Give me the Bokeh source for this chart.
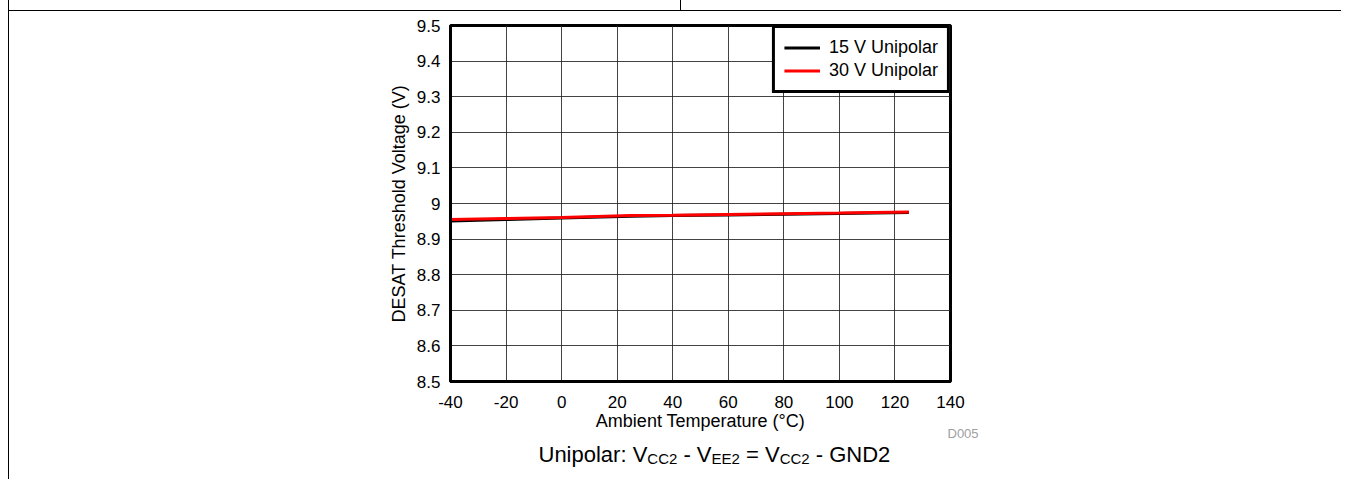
from bokeh.plotting import figure
from bokeh.models import Range1d, FixedTicker, Legend, LegendItem, Label
from bokeh.embed import file_html
from bokeh.resources import INLINE

# ---------------- data ----------------
temps = [-40, -20, 0, 25, 40, 60, 80, 100, 125]
v15_unipolar = [8.951, 8.955, 8.959, 8.964, 8.966, 8.968, 8.970, 8.972, 8.975]
v30_unipolar = [8.955, 8.958, 8.961, 8.966, 8.967, 8.969, 8.971, 8.973, 8.976]
series_names = ["15 V Unipolar", "30 V Unipolar"]

x_ticks = [-40, -20, 0, 20, 40, 60, 80, 100, 120, 140]
x_tick_labels = ["-40", "-20", "0", "20", "40", "60", "80", "100", "120", "140"]
y_ticks = [8.5, 8.6, 8.7, 8.8, 8.9, 9.0, 9.1, 9.2, 9.3, 9.4, 9.5]
y_tick_labels = ["8.5", "8.6", "8.7", "8.8", "8.9", "9", "9.1", "9.2", "9.3", "9.4", "9.5"]

x_title = "Ambient Temperature (\u00b0C)"
y_title = "DESAT Threshold Voltage (V)"
caption = [("Unipolar: V", False), ("CC2", True), (" - V", False), ("EE2", True),
           (" = V", False), ("CC2", True), (" - GND2", False)]
code_label = "D005"

# ---------------- layout ----------------
X0, X1 = -40, 140
Y0, Y1 = 8.5, 9.5
CW, CH = 1341, 479
FL, FT, FW, FH = 450, 25, 500, 356  # frame in canvas px
FONT = "Liberation Sans"


def dx(px):
    return X0 + (px - FL) * (X1 - X0) / FW


def dy(py):
    return Y1 - (py - FT) * (Y1 - Y0) / FH


p = figure(frame_width=FW, frame_height=FH,
           min_border_left=FL, min_border_right=CW - FL - FW,
           min_border_top=FT, min_border_bottom=CH - FT - FH,
           x_range=Range1d(X0, X1), y_range=Range1d(Y0, Y1),
           output_backend="svg", toolbar_location=None)
p.background_fill_color = "white"
p.border_fill_color = None
p.outline_line_color = "black"
p.outline_line_width = 3
# thin page rules of the datasheet cell (drawn behind the transparent border area)
p.styles = {
    "background": "linear-gradient(#000,#000) 8px 0px / 1.3px 100% no-repeat, "
                  "linear-gradient(#000,#000) 8px 9.6px / 100% 1.4px no-repeat, "
                  "linear-gradient(#000,#000) 679.5px 0px / 1.3px 10px no-repeat, #ffffff"
}

for ax in (p.xaxis[0], p.yaxis[0]):
    ax.axis_line_width = 3
    ax.axis_line_color = "black"
    ax.major_tick_line_color = None
    ax.minor_tick_line_color = None
    ax.major_label_text_font = FONT
    ax.major_label_text_font_size = "17px"
    ax.major_label_text_color = "black"
    ax.axis_label_text_font = FONT
    ax.axis_label_text_font_size = "18px"
    ax.axis_label_text_font_style = "normal"
    ax.axis_label_text_color = "black"

p.xaxis.ticker = FixedTicker(ticks=x_ticks)
p.xaxis.major_label_overrides = dict(zip(x_ticks, x_tick_labels))
p.yaxis.ticker = FixedTicker(ticks=y_ticks)
p.yaxis.major_label_overrides = dict(zip(y_ticks, y_tick_labels))
p.xaxis.major_label_standoff = 8
p.yaxis.major_label_standoff = 4
p.xaxis.axis_label = x_title
p.yaxis.axis_label = y_title
p.xaxis.axis_label_standoff = 0
p.yaxis.axis_label_standoff = 5

p.xgrid.ticker = FixedTicker(ticks=x_ticks)
p.ygrid.ticker = FixedTicker(ticks=y_ticks)
for g in (p.xgrid[0], p.ygrid[0]):
    g.grid_line_color = "#222222"
    g.grid_line_width = 1
    g.grid_line_alpha = 0.85

r15 = p.line(temps, v15_unipolar, line_color="black", line_width=3)
r30 = p.line(temps, v30_unipolar, line_color="#ff0000", line_width=3)

legend = Legend(items=[LegendItem(label=series_names[0], renderers=[r15]),
                       LegendItem(label=series_names[1], renderers=[r30])],
                location="top_right", orientation="vertical")
legend.margin = 0
legend.padding = 9
legend.spacing = 2
legend.glyph_width = 36
legend.glyph_height = 21
legend.label_height = 21
legend.label_standoff = 9
legend.label_text_font = FONT
legend.label_text_font_size = "18px"
legend.label_text_color = "black"
legend.border_line_color = "black"
legend.border_line_alpha = 1.0
legend.border_line_width = 3
legend.background_fill_color = "white"
legend.background_fill_alpha = 1.0
p.add_layout(legend, "center")

# caption with subscripts (placed in side panels so that they are not clipped)
W = {"U": 722, "n": 556, "i": 222, "p": 556, "o": 556, "l": 222, "a": 556, "r": 333,
     ":": 278, " ": 278, "V": 667, "C": 722, "2": 556, "-": 333, "E": 667, "=": 584,
     "G": 778, "N": 722, "D": 722}


def tw(s, size):
    return sum(W.get(c, 556) for c in s) * size / 1000.0


cx = 538.0
for s, sub in caption:
    size = 15 if sub else 22
    stripped = s.lstrip()
    lead = s[:len(s) - len(stripped)]
    base = 458 if sub else 454
    lab = Label(x=dx(cx + tw(lead, size)), y=dy(base), text=stripped,
                text_font=FONT, text_font_size=f"{size}px",
                text_baseline="alphabetic", text_align="left", text_color="black")
    p.add_layout(lab, "left" if sub else "right")
    cx += tw(s, size)

p.add_layout(Label(x=dx(947), y=dy(433), text=code_label, text_font=FONT,
                   text_font_size="13px", text_baseline="alphabetic",
                   text_align="left", text_color="#a0a0a0"), "left")

open("out.html", "w").write(file_html(p, INLINE))
